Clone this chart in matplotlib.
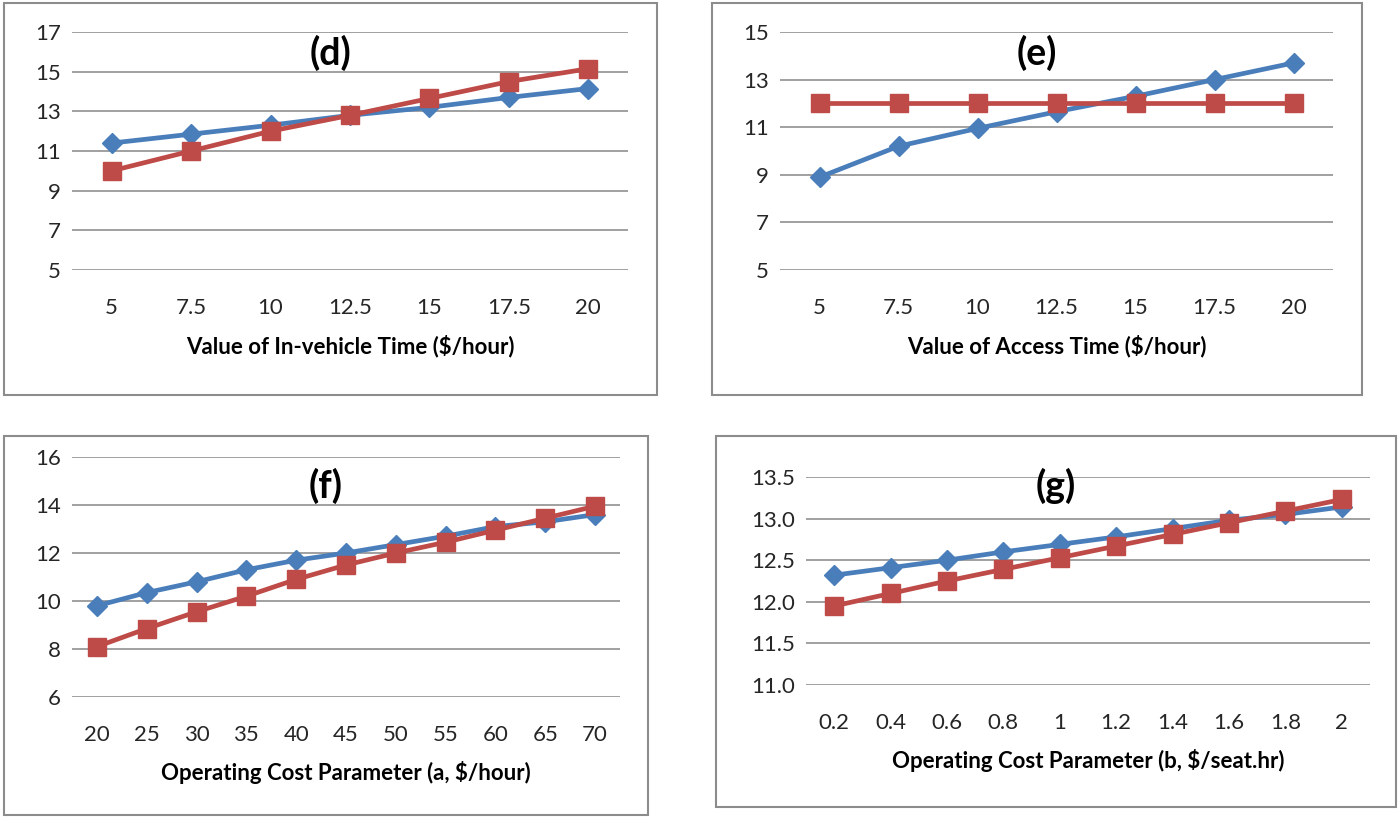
import matplotlib.pyplot as plt
from matplotlib.patches import Rectangle

# panel (d): value of in-vehicle time
d_x = ["5", "7.5", "10", "12.5", "15", "17.5", "20"]
d_blue = [11.4, 11.85, 12.3, 12.8, 13.2, 13.7, 14.15]
d_red = [10.0, 11.0, 12.0, 12.8, 13.65, 14.5, 15.15]

# panel (e): value of access time
e_x = ["5", "7.5", "10", "12.5", "15", "17.5", "20"]
e_blue = [8.9, 10.2, 10.95, 11.65, 12.3, 13.0, 13.7]
e_red = [12.0, 12.0, 12.0, 12.0, 12.0, 12.0, 12.0]

# panel (f): operating cost parameter a
f_x = ["20", "25", "30", "35", "40", "45", "50", "55", "60", "65", "70"]
f_blue = [9.8, 10.35, 10.8, 11.3, 11.7, 12.0, 12.35, 12.7, 13.1, 13.3, 13.6]
f_red = [8.1, 8.85, 9.55, 10.2, 10.9, 11.5, 12.0, 12.45, 12.95, 13.45, 13.95]

# panel (g): operating cost parameter b
g_x = ["0.2", "0.4", "0.6", "0.8", "1", "1.2", "1.4", "1.6", "1.8", "2"]
g_blue = [12.32, 12.41, 12.50, 12.60, 12.69, 12.78, 12.88, 12.98, 13.05, 13.14]
g_red = [11.95, 12.10, 12.25, 12.39, 12.53, 12.67, 12.81, 12.95, 13.09, 13.23]

BLUE = "#4a7ebb"
RED = "#be4b48"
W, H = 1400, 819

plt.rcParams["font.family"] = ["Lato", "DejaVu Sans"]

fig = plt.figure(figsize=(14, 8.19), dpi=100)


def box(x0, y0, x1, y1):
    # pixel coords (top-left origin) -> figure fraction
    return [x0 / W, 1 - y1 / H, (x1 - x0) / W, (y1 - y0) / H]


def panel(frame, area, cats, blue, red, yticks, yfmt, title, xlabel):
    l, b, w, h = box(*frame)
    fig.add_artist(Rectangle((l, b), w, h, transform=fig.transFigure,
                             fill=False, edgecolor="#8c8c8c", linewidth=1.5))
    # title is centred on the whole chart frame, not the plot area
    fig.text(l + w / 2, 1 - (frame[1] + 50) / H, title, ha="center",
             va="center", fontsize=27, fontweight="bold", zorder=10)
    ax = fig.add_axes(box(*area))
    xs = range(len(cats))
    ax.plot(xs, blue, color=BLUE, linewidth=3.4, marker="D", markersize=10.5,
            zorder=3)
    ax.plot(xs, red, color=RED, linewidth=3.4, marker="s", markersize=13,
            zorder=4)
    ax.set_xlim(-0.5, len(cats) - 0.5)
    ax.set_ylim(yticks[0], yticks[-1])
    ax.set_yticks(yticks)
    ax.set_yticklabels([yfmt.format(v) for v in yticks])
    ax.set_xticks(list(xs))
    ax.set_xticklabels(cats)
    ax.grid(axis="y", color="#868686", linewidth=1.1)
    ax.set_axisbelow(True)
    for s in ax.spines.values():
        s.set_visible(False)
    ax.tick_params(length=0, labelsize=16, colors="#262626", pad=8)
    ax.tick_params(axis="x", pad=20)
    ax.set_xlabel(xlabel, fontsize=16, fontweight="bold", labelpad=12)
    ax.patch.set_alpha(0)
    return ax


panel((4, 3, 657, 395), (72, 32, 628, 270), d_x, d_blue, d_red,
      [5, 7, 9, 11, 13, 15, 17], "{:d}", "(d)",
      "Value of In-vehicle Time ($/hour)")
panel((712, 3, 1362, 395), (780, 32, 1333, 270), e_x, e_blue, e_red,
      [5, 7, 9, 11, 13, 15], "{:d}", "(e)",
      "Value of Access Time ($/hour)")
panel((4, 436, 648, 815), (72, 457, 620, 697), f_x, f_blue, f_red,
      [6, 8, 10, 12, 14, 16], "{:d}", "(f)",
      "Operating Cost Parameter (a, $/hour)")
panel((716, 436, 1396, 807), (806, 477, 1370, 685), g_x, g_blue, g_red,
      [11.0, 11.5, 12.0, 12.5, 13.0, 13.5], "{:.1f}", "(g)",
      "Operating Cost Parameter (b, $/seat.hr)")

fig.savefig("out.png", dpi=100)
